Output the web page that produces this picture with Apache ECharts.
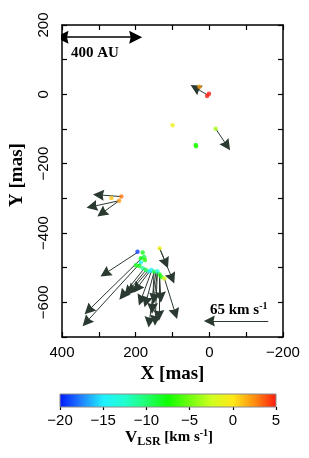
<!DOCTYPE html>
<html>
<head>
<meta charset="utf-8">
<script src="https://cdn.jsdelivr.net/npm/echarts@6/dist/echarts.min.js"></script>
<style>
html,body{margin:0;padding:0;background:#fff;}
#chart{width:309px;height:458px;}
</style>
</head>
<body>
<div id="chart"></div>
<script>
// Maser spots: position (mas) and V_LSR (km/s)
const spotX = [1, 6, 27, 100, -17, 37, 36, 239, 266, 245, 195, 181, 177, 186, 175, 186, 190, 181, 172, 163, 157, 150, 141, 135, 130, 122, 135, 199];
const spotY = [2, -5, 22, -89, -99, -146, -150, -295, -299, -307, -454, -456, -469, -473, -478, -485, -495, -502, -507, -510, -507, -512, -510, -520, -527, -531, -444, -493];
const spotV = [5.0, 4.8, 2.0, -1.0, -3.5, -7.5, -7.0, 3.0, 1.0, 2.0, -19, -8, -9, -8, -7, -14, -8, -11, -9, -14, -15, -9, -13, -8, -7, -2, -1, -8];

// Proper-motion arrows: start and end (mas)
const arrowX0 = [5, -17, 239, 245, 245, 195, 181, 186, 175, 172, 165, 160, 157, 150, 141, 135, 150, 145, 141, 137, 122, 135, 135];
const arrowY0 = [-2, -99, -295, -307, -307, -456, -470, -485, -500, -507, -508, -508, -510, -512, -512, -520, -512, -512, -512, -518, -531, -444, -444];
const arrowX1 = [38, -48, 301, 319, 292, 283, 328, 334, 235, 221, 212, 197, 186, 172, 150, 132, 155, 163, 147, 137, 92, 118, 101];
const arrowY1 = [19, -148, -290, -324, -343, -517, -623, -657, -580, -570, -565, -560, -594, -599, -589, -585, -618, -657, -652, -638, -633, -487, -531];

// Scale bars
const auBarX = [400, 200];
const auBarY = [165, 165];
const velBarX = [-160, 0];
const velBarY = [-654, -654];

// Axes
const xMin = -200, xMax = 400, xStep = 100;
const yMin = -700, yMax = 200, yStep = 100;
const cMin = -20, cMax = 5, cStep = 5;
const cbColors = ['#0018ff', '#2080ff', '#20f0ff', '#20ffd0', '#20ff70', '#10ff00', '#70ff10', '#d0ff20', '#ffe818', '#ff8c10', '#ff1810'];

const chart = echarts.init(document.getElementById('chart'));
const minus = v => String(v).replace('-', '\u2212');
const tickFont = {fontFamily: 'Liberation Sans, Arial, sans-serif', fontSize: 15, color: '#000'};
const serifBold = 'Liberation Serif, Times New Roman, serif';
const arrowColor = '#2b3a31';
const headPath = 'path://M5,0 L10,13 L5,11.5 L0,13 Z';

const lineData = arrowX0.map((x, i) => ({coords: [[x, arrowY0[i]], [arrowX1[i], arrowY1[i]]]}));
const scatterData = spotX.map((x, i) => [x, spotY[i], spotV[i]]);

const stops = cbColors.map((c, i) => ({offset: i / (cbColors.length - 1), color: c}));

const frameX = {
  type: 'value', min: xMin, max: xMax, interval: xStep, inverse: true,
  axisLine: {show: true, onZero: false, lineStyle: {color: '#000', width: 1.5}},
  axisTick: {show: true, inside: true, length: 5, lineStyle: {color: '#000', width: 1.2}},
  splitLine: {show: false}
};
const frameY = {
  type: 'value', min: yMin, max: yMax, interval: yStep,
  axisLine: {show: true, onZero: false, lineStyle: {color: '#000', width: 1.5}},
  axisTick: {show: true, inside: true, length: 5, lineStyle: {color: '#000', width: 1.2}},
  splitLine: {show: false}
};

const option = {
  animation: false,
  backgroundColor: '#fff',
  grid: [
    {left: 58, top: 25, width: 225, height: 312},
    {left: 60, top: 394, width: 216, height: 13}
  ],
  xAxis: [
    Object.assign({}, frameX, {
      gridIndex: 0, position: 'bottom',
      axisLabel: Object.assign({margin: 8, formatter: v => (v % 200 === 0 ? minus(v) : '')}, tickFont),
      name: 'X [mas]', nameLocation: 'middle', nameGap: 25,
      nameTextStyle: {fontFamily: serifBold, fontWeight: 'bold', fontSize: 19, color: '#000'}
    }),
    Object.assign({}, frameX, {gridIndex: 0, position: 'top', axisLabel: {show: false}}),
    {
      gridIndex: 1, type: 'value', min: cMin, max: cMax, interval: cStep,
      axisLine: {show: false},
      axisTick: {show: true, inside: false, length: 3, lineStyle: {color: '#000', width: 1.2}},
      axisLabel: Object.assign({margin: 6, formatter: v => minus(v)}, tickFont),
      splitLine: {show: false}
    }
  ],
  yAxis: [
    Object.assign({}, frameY, {
      gridIndex: 0, position: 'left',
      axisLabel: Object.assign({margin: 11, rotate: 90, formatter: v => (v % 200 === 0 ? minus(v) : '')}, tickFont),
      name: 'Y [mas]', nameLocation: 'middle', nameGap: 35, nameRotate: 90,
      nameTextStyle: {fontFamily: serifBold, fontWeight: 'bold', fontSize: 19, color: '#000', padding: [0, 0, 0, 12]}
    }),
    Object.assign({}, frameY, {gridIndex: 0, position: 'right', axisLabel: {show: false}}),
    {gridIndex: 1, type: 'value', min: 0, max: 1, show: false}
  ],
  visualMap: {
    type: 'continuous', show: false, min: cMin, max: cMax, dimension: 2,
    seriesIndex: 3, inRange: {color: cbColors}
  },
  series: [
    {
      type: 'lines', coordinateSystem: 'cartesian2d', xAxisIndex: 0, yAxisIndex: 0,
      symbol: ['none', headPath], symbolSize: 11,
      lineStyle: {color: arrowColor, width: 1, opacity: 1},
      itemStyle: {color: arrowColor},
      data: lineData, z: 3
    },
    {
      type: 'lines', coordinateSystem: 'cartesian2d', xAxisIndex: 0, yAxisIndex: 0,
      symbol: [headPath, headPath], symbolSize: 13,
      lineStyle: {color: '#000', width: 1.5, opacity: 1},
      data: [{coords: [[auBarX[0], auBarY[0]], [auBarX[1], auBarY[1]]]}], z: 3
    },
    {
      type: 'lines', coordinateSystem: 'cartesian2d', xAxisIndex: 0, yAxisIndex: 0,
      symbol: ['none', headPath], symbolSize: 11,
      lineStyle: {color: arrowColor, width: 1, opacity: 1},
      data: [{coords: [[velBarX[0], velBarY[0]], [velBarX[1], velBarY[1]]]}], z: 3
    },
    {
      type: 'scatter', xAxisIndex: 0, yAxisIndex: 0, symbol: 'circle', symbolSize: 4.5,
      data: scatterData, z: 4
    },
    {
      type: 'custom', xAxisIndex: 2, yAxisIndex: 2, data: [[cMin, 0]],
      renderItem: function (params, api) {
        const p0 = api.coord([cMin, 1]);
        const p1 = api.coord([cMax, 0]);
        return {
          type: 'rect',
          shape: {x: p0[0], y: p0[1], width: p1[0] - p0[0], height: p1[1] - p0[1]},
          style: {fill: new echarts.graphic.LinearGradient(0, 0, 1, 0, stops), stroke: '#8a8a8a', lineWidth: 1}
        };
      }
    }
  ],
  graphic: [
    {
      type: 'text', left: 71, top: 46,
      style: {text: '400 AU', font: 'bold 15px ' + serifBold, fill: '#000'}
    },
    {
      type: 'text', left: 210, top: 301,
      style: {
        text: '{a|65 km s}{s|-1}',
        rich: {
          a: {font: 'bold 15px ' + serifBold, fill: '#000'},
          s: {font: 'bold 10px ' + serifBold, fill: '#000', padding: [0, 0, 9, 0]}
        }
      }
    },
    {
      type: 'text', left: 125, top: 428,
      style: {
        text: '{v|V}{l|LSR}{a| [km s}{s|-1}{a|]}',
        rich: {
          v: {font: 'bold 17px ' + serifBold, fill: '#000'},
          l: {font: 'bold 12px ' + serifBold, fill: '#000', padding: [8, 0, 0, 0]},
          a: {font: 'bold 15px ' + serifBold, fill: '#000'},
          s: {font: 'bold 10px ' + serifBold, fill: '#000', padding: [0, 0, 9, 0]}
        }
      }
    }
  ]
};
chart.setOption(option);
</script>
</body>
</html>
